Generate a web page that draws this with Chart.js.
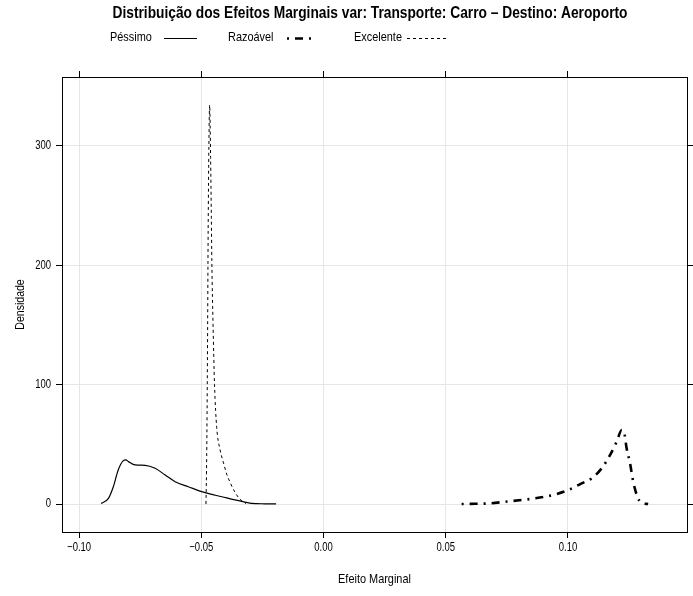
<!DOCTYPE html>
<html lang="pt">
<head>
    <meta charset="UTF-8">
    <title>Distribuição dos Efeitos Marginais</title>
    <script src="https://cdn.jsdelivr.net/npm/chart.js@4.4.1/dist/chart.umd.min.js"></script>
    <style>
        html, body { margin: 0; padding: 0; background: #fff; }
        .wrap { width: 693px; height: 596px; position: relative; }
    </style>
</head>
<body>
    <div class="wrap"><canvas id="chart" width="693" height="596"></canvas></div>
    <script>
        // densidades
        var pessimoX = [-0.0910, -0.0880, -0.0860, -0.0840, -0.0819, -0.0809, -0.0798, -0.0771, -0.0730, -0.0689, -0.0648, -0.0607, -0.0553, -0.0485, -0.0416, -0.0348, -0.0294, -0.0240, -0.0194];
        var pessimoY = [0.5, 4.8, 14.5, 28.5, 36.3, 36.9, 35.5, 32.7, 32.4, 29.9, 24.3, 18.7, 14.5, 9.5, 6.1, 2.8, 0.6, 0.2, 0.1];

        var razoavelX = [0.0565, 0.0620, 0.0674, 0.0742, 0.0811, 0.0860, 0.0906, 0.0955, 0.1001, 0.1056, 0.1097, 0.1138, 0.1172, 0.1199, 0.1220, 0.1229, 0.1240, 0.1254, 0.1267, 0.1285, 0.1301, 0.1328];
        var razoavelY = [0, 0.2, 0.5, 1.9, 3.4, 4.6, 6.1, 8.5, 11.7, 17.3, 21.5, 29.9, 41, 52, 62, 60.6, 46.7, 34, 18.7, 5.6, 1.1, 0];

        var excelenteX = [-0.0481, -0.0478, -0.0475, -0.0472, -0.0469, -0.0466, -0.0462, -0.0459, -0.0457, -0.0452, -0.0446, -0.0437, -0.0424, -0.0410, -0.0396, -0.0382, -0.0368, -0.0355, -0.0342, -0.0328, -0.0317];
        var excelenteY = [0, 40, 120, 230, 300, 334, 290, 240, 203, 150, 100, 64, 46, 35, 25, 18, 12, 7.5, 4, 2, 0.3];

        var xTicks = [-0.10, -0.05, 0.00, 0.05, 0.10];
        var xTickLabels = ['\u22120.10', '\u22120.05', '0.00', '0.05', '0.10'];
        var yTicks = [0, 100, 200, 300];
        var yTickLabels = ['0', '100', '200', '300'];

        var seriesNames = ['Péssimo', 'Razoável', 'Excelente'];
        var titleText = 'Distribuição dos Efeitos Marginais var: Transporte: Carro \u2013 Destino: Aeroporto';
        var xTitle = 'Efeito Marginal';
        var yTitle = 'Densidade';

        var FONT = '"Liberation Sans", Arial, sans-serif';

        function pts(xs, ys) {
            return xs.map(function (x, i) { return { x: x, y: ys[i] }; });
        }

        var styles = [
            { width: 1, dash: [] },
            { width: 2.6, dash: [2, 6, 8, 6] },
            { width: 1, dash: [3, 3] }
        ];

        function setTicks(vals) {
            return function (scale) {
                scale.ticks = vals.map(function (v) { return { value: v }; });
            };
        }

        // texto "estreito" (Helvetica Narrow) simulado com escala horizontal
        function narrowText(ctx, text, x, y, sx, align, rot) {
            ctx.save();
            ctx.translate(x, y);
            if (rot) ctx.rotate(rot);
            ctx.scale(sx, 1);
            ctx.textAlign = align;
            ctx.fillText(text, 0, 0);
            ctx.restore();
        }

        // título, legenda e rótulos dos eixos estilo lattice
        var textPlugin = {
            id: 'lattice-text',
            afterDraw: function (chart) {
                var ctx = chart.ctx;
                var area = chart.chartArea;
                var xs = chart.scales.x, ys = chart.scales.y;
                ctx.save();
                ctx.fillStyle = '#000';
                ctx.textBaseline = 'middle';

                ctx.font = 'bold 16px ' + FONT;
                var w = ctx.measureText(titleText).width;
                narrowText(ctx, titleText, 370, 14, 515 / w, 'center');

                ctx.font = '13px ' + FONT;
                var textX = [110, 228, 354];
                var lineX = [[164, 197], [287, 313], [407, 447]];
                for (var i = 0; i < 3; i++) {
                    narrowText(ctx, seriesNames[i], textX[i], 37, 0.84, 'left');
                    ctx.beginPath();
                    ctx.lineWidth = styles[i].width;
                    ctx.setLineDash(styles[i].dash);
                    ctx.strokeStyle = '#000';
                    ctx.moveTo(lineX[i][0], 38.5);
                    ctx.lineTo(lineX[i][1], 38.5);
                    ctx.stroke();
                }
                ctx.setLineDash([]);

                ctx.font = '12.5px ' + FONT;
                xTicks.forEach(function (v, k) {
                    narrowText(ctx, xTickLabels[k], xs.getPixelForValue(v), area.bottom + 16, 0.76, 'center');
                });
                yTicks.forEach(function (v, k) {
                    narrowText(ctx, yTickLabels[k], area.left - 11, ys.getPixelForValue(v), 0.76, 'right');
                });

                ctx.font = '13px ' + FONT;
                narrowText(ctx, xTitle, (area.left + area.right) / 2, 579, 0.84, 'center');
                ctx.font = '12px ' + FONT;
                narrowText(ctx, yTitle, 21, (area.top + area.bottom) / 2, 0.88, 'center', -Math.PI / 2);
                ctx.restore();
            }
        };

        var ctx = document.getElementById('chart').getContext('2d');
        var chart = new Chart(ctx, {
            type: 'line',
            data: {
                datasets: [
                    { label: seriesNames[0], data: pts(pessimoX, pessimoY), borderColor: '#000', borderWidth: 1.2, borderDash: styles[0].dash, pointRadius: 0, cubicInterpolationMode: 'monotone', fill: false },
                    { label: seriesNames[1], data: pts(razoavelX, razoavelY), borderColor: '#000', borderWidth: styles[1].width, borderDash: styles[1].dash, pointRadius: 0, cubicInterpolationMode: 'monotone', fill: false },
                    { label: seriesNames[2], data: pts(excelenteX, excelenteY), borderColor: '#000', borderWidth: styles[2].width, borderDash: styles[2].dash, pointRadius: 0, cubicInterpolationMode: 'monotone', fill: false }
                ]
            },
            options: {
                responsive: false,
                animation: false,
                layout: { padding: { top: 71, right: 0, bottom: 0, left: 0 } },
                plugins: { legend: { display: false }, title: { display: false }, tooltip: { enabled: false } },
                scales: {
                    x: {
                        type: 'linear', position: 'bottom',
                        min: -0.107, max: 0.1487,
                        afterBuildTicks: setTicks(xTicks),
                        afterFit: function (s) { s.height = 64; },
                        grid: { color: '#e6e6e6', tickColor: '#000', tickLength: 6 },
                        border: { color: '#000', width: 1 },
                        ticks: { display: false }
                    },
                    x2: {
                        type: 'linear', position: 'top',
                        min: -0.107, max: 0.1487,
                        afterBuildTicks: setTicks(xTicks),
                        grid: { drawOnChartArea: false, tickColor: '#000', tickLength: 6 },
                        border: { color: '#000', width: 1 },
                        ticks: { display: false }
                    },
                    y: {
                        type: 'linear', position: 'left',
                        min: -23.4, max: 357.4,
                        afterBuildTicks: setTicks(yTicks),
                        afterFit: function (s) { s.width = 62; },
                        grid: { color: '#e6e6e6', tickColor: '#000', tickLength: 6 },
                        border: { color: '#000', width: 1 },
                        ticks: { display: false }
                    },
                    y2: {
                        type: 'linear', position: 'right',
                        min: -23.4, max: 357.4,
                        afterBuildTicks: setTicks(yTicks),
                        grid: { drawOnChartArea: false, tickColor: '#000', tickLength: 6 },
                        border: { color: '#000', width: 1 },
                        ticks: { display: false }
                    }
                }
            },
            plugins: [textPlugin]
        });
    </script>
</body>
</html>
